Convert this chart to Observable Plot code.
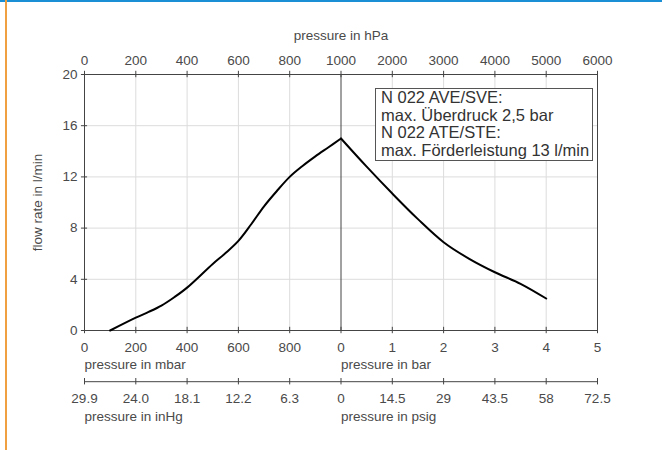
<!DOCTYPE html>
<html>
<head>
<meta charset="utf-8">
<script src="https://cdn.jsdelivr.net/npm/d3@7"></script>
<script src="https://cdn.jsdelivr.net/npm/@observablehq/plot@0.6"></script>
<style>
  html, body { margin: 0; padding: 0; background: #fff; }
  #wrap { position: relative; width: 662px; height: 450px; overflow: hidden; font-family: "Liberation Sans", Arial, sans-serif; }
  #topline { position: absolute; left: 0; top: 0; width: 662px; height: 2px; background: #1a8fd6; }
  #leftline { position: absolute; left: 5px; top: 0; width: 1.5px; height: 450px; background: #f0a040; }
  #legend { position: absolute; left: 375px; top: 88px; border: 1px solid #555; background: #fff;
            padding: 0 3px 1px 5px; font-size: 16.5px; line-height: 17.5px; color: #333; white-space: nowrap; }
</style>
</head>
<body>
<div id="wrap">
  <div id="topline"></div>
  <div id="leftline"></div>
  <div id="chart"></div>
  <div id="legend"></div>
</div>
<script>
// --- data ---
const vacuumMbar = [100, 200, 250, 300, 350, 400, 500, 550, 600, 650, 700, 750, 800, 850, 900, 950, 1000];
const vacuumFlow = [0, 1.0, 1.45, 1.95, 2.6, 3.35, 5.2, 6.05, 7.0, 8.3, 9.7, 10.9, 12.0, 12.85, 13.6, 14.3, 15.0];
const pressureBar = [0, 0.5, 1, 1.5, 2, 2.5, 3, 3.5, 4];
const pressureFlow = [15.0, 12.8, 10.7, 8.7, 6.9, 5.6, 4.55, 3.65, 2.5];

// tick positions on the combined axis (0..1 = vacuum 0..1000 mbar, 1..2 = pressure 0..5 bar)
const tickPos = [0, 0.2, 0.4, 0.6, 0.8, 1, 1.2, 1.4, 1.6, 1.8, 2];
const hPaLabels = ["0", "200", "400", "600", "800", "1000", "2000", "3000", "4000", "5000", "6000"];
const mbarBarLabels = ["0", "200", "400", "600", "800", "0", "1", "2", "3", "4", "5"];
const inHgPsigLabels = ["29.9", "24.0", "18.1", "12.2", "6.3", "0", "14.5", "29", "43.5", "58", "72.5"];
const yTicks = [0, 4, 8, 12, 16, 20];
const yGrid = [4, 8, 12, 16];
const gridPos = [0.2, 0.4, 0.6, 0.8, 1.2, 1.4, 1.6, 1.8];
const legendLines = ["N 022 AVE/SVE:", "max. Überdruck 2,5 bar", "N 022 ATE/STE:", "max. Förderleistung 13 l/min"];

// build table
const curve = [
  ...vacuumMbar.map((m, i) => ({u: m / 1000, flow: vacuumFlow[i], side: "vac"})),
  ...pressureBar.map((b, i) => ({u: 1 + b / 5, flow: pressureFlow[i], side: "pres"}))
];

const AX = "#444";
const TXT = "#4a4a4a";
const secondAxisY = -4; // data units below zero where the second scale sits
const t = 0.25;

const chart = Plot.plot({
  width: 662,
  height: 450,
  marginLeft: 84,
  marginRight: 65,
  marginTop: 74,
  marginBottom: 120,
  x: {domain: [0, 2], axis: null},
  y: {domain: [0, 20], axis: null},
  style: {fontFamily: "'Liberation Sans', Arial, sans-serif", fontSize: "13.5px", color: TXT, background: "transparent", overflow: "visible"},
  marks: [
    Plot.gridX(gridPos, {stroke: "#dcdcdc", strokeOpacity: 1}),
    Plot.gridY(yGrid, {stroke: "#dcdcdc", strokeOpacity: 1}),
    Plot.frame({stroke: AX}),
    Plot.ruleX([1], {stroke: AX}),
    // ticks top / bottom
    Plot.ruleX(tickPos, {y1: 20 - t, y2: 20 + t, stroke: AX}),
    Plot.ruleX(tickPos, {y1: -t, y2: t, stroke: AX}),
    // y ticks
    Plot.ruleY(yTicks, {x1: -0.012, x2: 0.012, stroke: AX}),
    // second bottom axis
    Plot.ruleY([secondAxisY], {x1: 0, x2: 2, stroke: AX}),
    Plot.ruleX(tickPos, {y1: secondAxisY - t, y2: secondAxisY + t, stroke: AX}),
    // tick labels
    Plot.text(tickPos, {x: d => d, y: 20, dy: -14, text: (d, i) => hPaLabels[i], fill: TXT}),
    Plot.text(tickPos, {x: d => d, y: 0, dy: 17, text: (d, i) => mbarBarLabels[i], fill: TXT}),
    Plot.text(tickPos, {x: d => d, y: secondAxisY, dy: 16.5, text: (d, i) => inHgPsigLabels[i], fill: TXT}),
    Plot.text(yTicks, {x: 0, y: d => d, dx: -7, textAnchor: "end", text: d => String(d), fill: TXT}),
    // axis titles
    Plot.text(["pressure in hPa"], {x: 1, y: 20, dy: -39, fill: TXT}),
    Plot.text(["pressure in mbar"], {x: 0, y: 0, dy: 34, textAnchor: "start", fill: TXT}),
    Plot.text(["pressure in bar"], {x: 1, y: 0, dy: 34, textAnchor: "start", fill: TXT}),
    Plot.text(["pressure in inHg"], {x: 0, y: secondAxisY, dy: 35, textAnchor: "start", fill: TXT}),
    Plot.text(["pressure in psig"], {x: 1, y: secondAxisY, dy: 35, textAnchor: "start", fill: TXT}),
    Plot.text(["flow rate in l/min"], {x: 0, y: 10, dx: -47, rotate: -90, fill: TXT}),
    // curve
    Plot.line(curve, {x: "u", y: "flow", z: "side", curve: "catmull-rom", stroke: "#000", strokeWidth: 2})
  ]
});
document.getElementById("chart").appendChild(chart);
document.getElementById("legend").innerHTML = legendLines.join("<br>");
</script>
</body>
</html>
